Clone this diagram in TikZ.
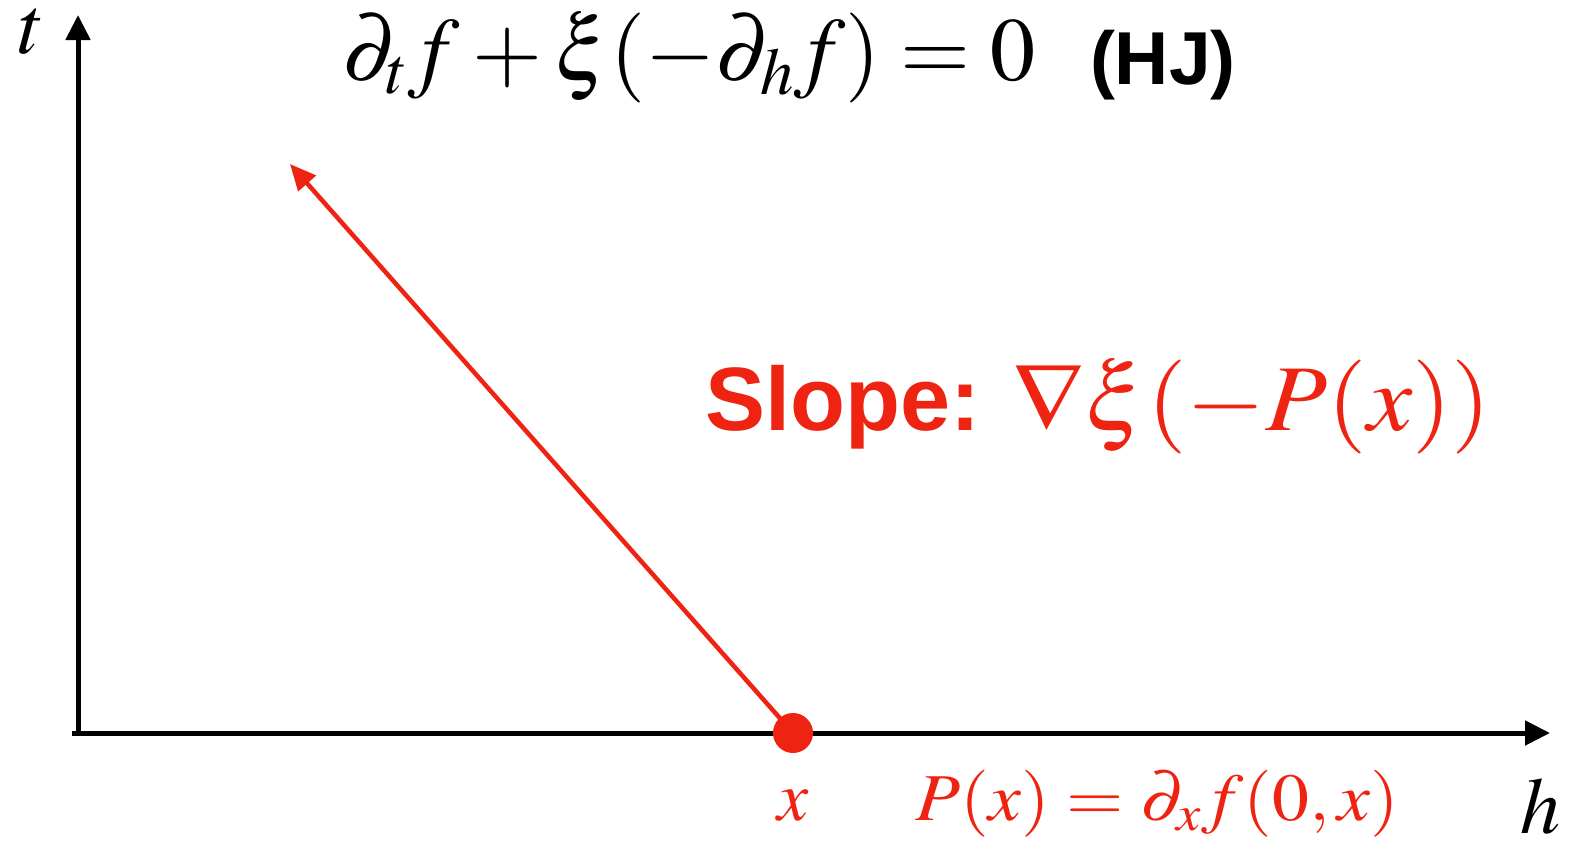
\documentclass[tikz,border=0pt]{standalone}
\usepackage{mathptmx}
\usepackage{fontspec}
\setmainfont{Liberation Serif}
\newfontfamily\arialf{Liberation Sans}
\usetikzlibrary{arrows.meta}
\definecolor{myred}{RGB}{238,35,18}
\tikzset{
  axis/.style={line width=5pt,-{Triangle[length=25pt,width=24pt]}},
  redarrow/.style={myred,line width=4.5pt,-{Triangle[length=26pt,width=23pt]}},
  lbl/.style={inner sep=0pt,outer sep=0pt},
}
\begin{document}
\begin{tikzpicture}[x=1pt,y=-1pt]
\useasboundingbox (0,0) rectangle (1572,841);
\coordinate (xs) at (72,733);
\coordinate (xe) at (1550,733);
\coordinate (ys) at (78,735);
\coordinate (ye) at (78,15);
\draw[axis] (xs) -- (xe);
\draw[axis] (ys) -- (ye);
\node[circle,fill=myred,minimum size=40pt,inner sep=0pt] (dot) at (793,733) {};
\coordinate (tip) at (290,164);
\draw[redarrow] (dot.center) -- (tip);
\node[lbl,anchor=base] (tl) at (32,53) {\fontsize{82}{90}\selectfont$t$};
\node[lbl,anchor=base] (hl) at (1540,833) {\fontsize{80}{90}\selectfont$h$};
\node[lbl,anchor=base west] (eq) at (342,80) {\fontsize{90}{100}\selectfont$\partial_t f+\xi(-\partial_h f)=0$};
\node[lbl,anchor=base west] (hj) at (1090,84) {\fontsize{75}{90}\selectfont\arialf\bfseries(HJ)};
\node[lbl,anchor=base west,text=myred] (sl) at (705,430) {\fontsize{90}{100}\selectfont\arialf\bfseries Slope:};
\node[lbl,anchor=base west,text=myred] (sm) at (1012,430) {\scalebox{1.08}[1]{\fontsize{94}{100}\selectfont$\nabla\xi(-P(x))$}};
\node[lbl,anchor=base,text=myred] (xl) at (793,820) {\fontsize{70}{80}\selectfont$x$};
\node[lbl,anchor=base west,text=myred] (px) at (915,820) {\scalebox{1.1}[1]{\fontsize{67}{80}\selectfont$P(x)=\partial_x f(0,x)$}};
\end{tikzpicture}
\end{document}
